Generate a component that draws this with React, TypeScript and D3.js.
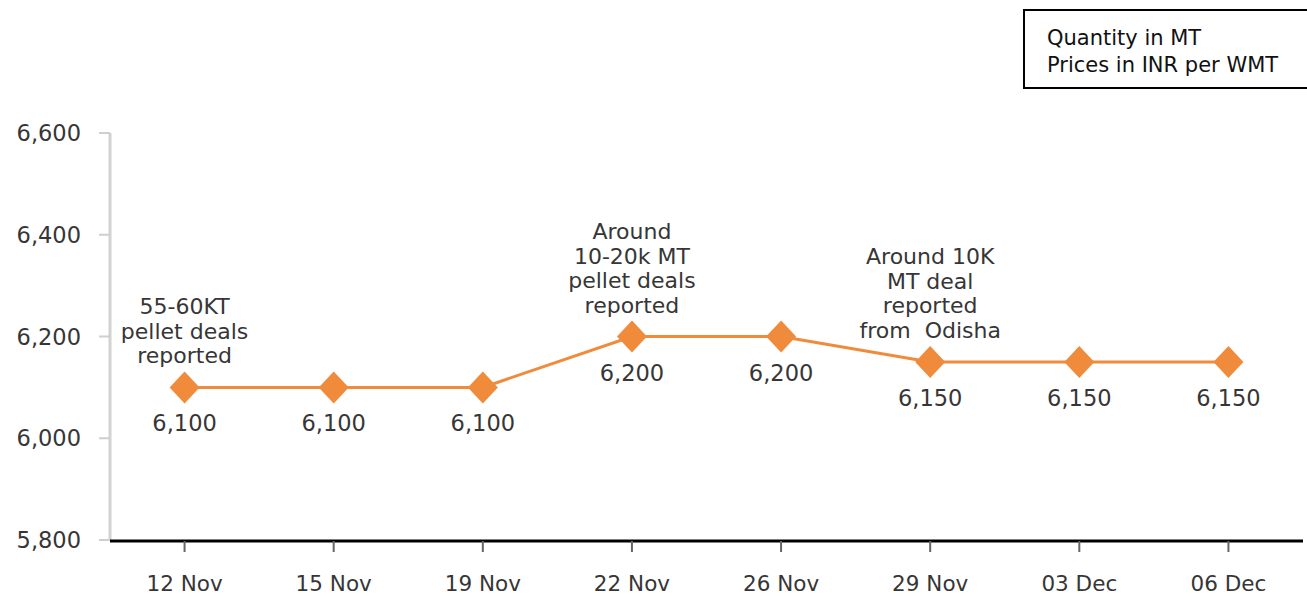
import React from "react";
import * as d3 from "d3";

const categories = ["12 Nov", "15 Nov", "19 Nov", "22 Nov", "26 Nov", "29 Nov", "03 Dec", "06 Dec"];
const prices = [6100, 6100, 6100, 6200, 6200, 6150, 6150, 6150];
const yTicks = [5800, 6000, 6200, 6400, 6600];
const annotations = [
  { category: "12 Nov", lines: ["55-60KT", "pellet deals", "reported"] },
  { category: "22 Nov", lines: ["Around", "10-20k MT", "pellet deals", "reported"] },
  { category: "29 Nov", lines: ["Around 10K", "MT deal", "reported", "from  Odisha"] },
];
const legendLines = ["Quantity in MT", "Prices in INR per WMT"];

const W = 1307;
const H = 596;
const FONT = "'DejaVu Sans', Verdana, sans-serif";
const TEXT = "#363636";
const ORANGE = "#EF8B3A";

export default function App() {
  const x = d3.scalePoint<string>().domain(categories).range([110, 1303]).padding(0.5);
  const y = d3.scaleLinear().domain([5800, 6600]).range([540, 133]);
  const fmt = d3.format(",");
  const line = d3
    .line<number>()
    .x((_, i) => x(categories[i]) as number)
    .y((d) => y(d));

  return (
    <svg width={W} height={H} style={{ position: "absolute", left: 0, top: 0 }} fontFamily={FONT}>
      <rect width={W} height={H} fill="#fff" />
      {/* legend box */}
      <rect x={1024} y={10} width={300} height={78} fill="#fff" stroke="#000" strokeWidth={2} />
      {legendLines.map((t, i) => (
        <text key={t} x={1047} y={45 + i * 27} fontSize={21} fill="#111">
          {t}
        </text>
      ))}
      {/* y axis */}
      <line x1={110} x2={110} y1={y(6600)} y2={y(5800)} stroke="#d2d2d2" strokeWidth={3} />
      {yTicks.map((t) => (
        <g key={t}>
          <line x1={99} x2={110} y1={y(t)} y2={y(t)} stroke="#cfcfcf" strokeWidth={2} />
          <text x={81} y={y(t) + 8} textAnchor="end" fontSize={22.5} fill={TEXT}>
            {fmt(t)}
          </text>
        </g>
      ))}
      {/* x axis */}
      <line x1={110} x2={1303} y1={541} y2={541} stroke="#000" strokeWidth={3} />
      {categories.map((c) => (
        <g key={c}>
          <line x1={x(c)} x2={x(c)} y1={541} y2={552} stroke="#666" strokeWidth={2} />
          <text x={x(c)} y={591} textAnchor="middle" fontSize={21.5} fill={TEXT}>
            {c}
          </text>
        </g>
      ))}
      {/* series */}
      <path d={line(prices) || ""} fill="none" stroke={ORANGE} strokeWidth={3} />
      {prices.map((v, i) => {
        const cx = x(categories[i]) as number;
        const cy = y(v);
        return (
          <g key={i}>
            <path d={`M${cx},${cy - 16}L${cx + 15},${cy}L${cx},${cy + 16}L${cx - 15},${cy}Z`} fill={ORANGE} />
            <text x={cx} y={cy + 44} textAnchor="middle" fontSize={22.5} fill={TEXT}>
              {fmt(v)}
            </text>
          </g>
        );
      })}
      {/* annotations */}
      {annotations.map((a) => {
        const i = categories.indexOf(a.category);
        const cx = x(a.category) as number;
        const cy = y(prices[i]);
        const n = a.lines.length;
        return (
          <g key={a.category}>
            {a.lines.map((l, j) => (
              <text
                key={j}
                x={cx}
                y={cy - 32 - (n - 1 - j) * 24.5 + 8}
                textAnchor="middle"
                fontSize={22}
                fill={TEXT}
                style={{ whiteSpace: "pre" }}
              >
                {l}
              </text>
            ))}
          </g>
        );
      })}
    </svg>
  );
}
